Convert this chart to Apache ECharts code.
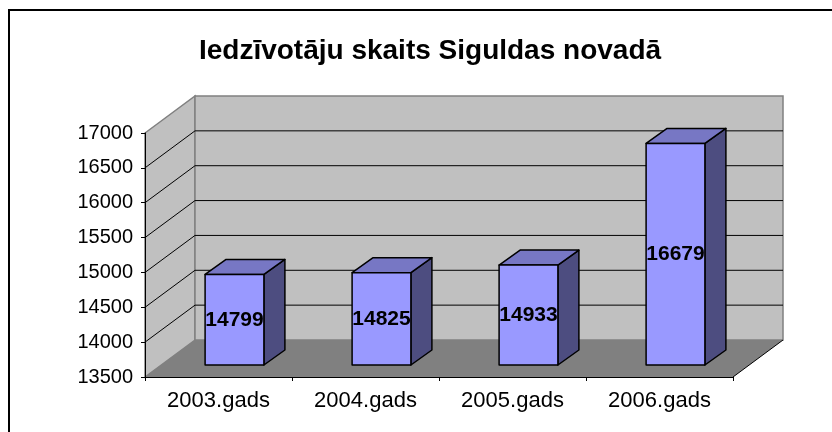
<!DOCTYPE html>
<html>
<head>
<meta charset="utf-8">
<script src="https://cdn.jsdelivr.net/npm/echarts@6/dist/echarts.min.js"></script>
<style>
    html, body { margin: 0; padding: 0; background: #fff; }
    #main { width: 832px; height: 432px; }
</style>
</head>
<body>
<div id="main"></div>
<script>
    const years = ['2003.gads', '2004.gads', '2005.gads', '2006.gads'];
    const population = [14799, 14825, 14933, 16679];
    const yMin = 13500;
    const yMax = 17000;
    const yStep = 500;

    const FONT = "'Liberation Sans', Arial, sans-serif";
    // depth of the 3d box (walls), and where bars sit inside it
    const DX = 50, DY = -37;
    const FDX = 16, FDY = -12;     // bar front face shift
    const BDX = 21, BDY = -15;     // bar depth

    const chart = echarts.init(document.getElementById('main'));

    function renderFrame(params, api) {
        const cs = params.coordSys;
        const x0 = cs.x, x1 = cs.x + cs.width;
        const yTop = api.coord([0, yMax])[1];
        const yBot = api.coord([0, yMin])[1];
        const children = [];
        // left wall
        children.push({
            type: 'polygon',
            shape: { points: [[x0, yTop], [x0 + DX, yTop + DY], [x0 + DX, yBot + DY], [x0, yBot]] },
            style: { fill: '#c0c0c0', stroke: '#808080', lineWidth: 1.5 }
        });
        // back wall
        children.push({
            type: 'rect',
            shape: { x: x0 + DX, y: yTop + DY, width: x1 - x0, height: yBot - yTop },
            style: { fill: '#c0c0c0', stroke: '#808080', lineWidth: 1.5 }
        });
        // gridlines
        for (let v = yMin + yStep; v < yMax; v += yStep) {
            const y = api.coord([0, v])[1];
            children.push({
                type: 'line',
                shape: { x1: x0, y1: y, x2: x0 + DX, y2: y + DY },
                style: { stroke: '#000', lineWidth: 1 }
            });
            children.push({
                type: 'line',
                shape: { x1: x0 + DX, y1: y + DY, x2: x1 + DX, y2: y + DY },
                style: { stroke: '#000', lineWidth: 1 }
            });
        }
        // floor
        children.push({
            type: 'polygon',
            shape: { points: [[x0, yBot], [x1, yBot], [x1 + DX, yBot + DY], [x0 + DX, yBot + DY]] },
            style: { fill: '#808080', stroke: null }
        });
        children.push({
            type: 'line',
            shape: { x1: x1, y1: yBot, x2: x1 + DX, y2: yBot + DY },
            style: { stroke: '#000', lineWidth: 1 }
        });
        return { type: 'group', children };
    }

    function renderBar(params, api) {
        const idx = api.value(0);
        const val = api.value(1);
        const base = api.coord([idx, yMin]);
        const top = api.coord([idx, val]);
        const bw = api.size([1, 0])[0] * 0.4;
        const cx = base[0] + FDX;
        const L = cx - bw / 2, R = cx + bw / 2;
        const T = top[1] + FDY, B = base[1] + FDY;
        const edge = { stroke: '#000', lineWidth: 1.5, lineJoin: 'round' };
        return {
            type: 'group',
            children: [
                {
                    type: 'polygon',
                    shape: { points: [[R, T], [R + BDX, T + BDY], [R + BDX, B + BDY], [R, B]] },
                    style: Object.assign({ fill: '#4d4d80' }, edge)
                },
                {
                    type: 'polygon',
                    shape: { points: [[L, T], [R, T], [R + BDX, T + BDY], [L + BDX, T + BDY]] },
                    style: Object.assign({ fill: '#7777c4' }, edge)
                },
                {
                    type: 'rect',
                    shape: { x: L, y: T, width: bw, height: B - T },
                    style: Object.assign({ fill: '#9999ff' }, edge)
                },
                {
                    type: 'text',
                    style: {
                        x: cx, y: (T + B) / 2,
                        text: String(val),
                        fill: '#000',
                        font: 'bold 21px ' + FONT,
                        align: 'center',
                        verticalAlign: 'middle'
                    }
                }
            ]
        };
    }

    const option = {
        animation: false,
        backgroundColor: '#fff',
        title: {
            text: 'Iedzīvotāju skaits Siguldas novadā',
            left: 425,
            top: 32,
            textAlign: 'center',
            textStyle: { fontFamily: FONT, fontSize: 28, fontWeight: 'bold', color: '#000' }
        },
        graphic: [{
            type: 'rect',
            shape: { x: 9, y: 10, width: 900, height: 500 },
            style: { fill: null, stroke: '#000', lineWidth: 2 },
            silent: true
        }],
        grid: { left: 145, right: 99, top: 133, bottom: 55 },
        xAxis: {
            type: 'category',
            data: years,
            z: 10,
            axisLine: { lineStyle: { color: '#000', width: 1 } },
            axisTick: { show: true, length: 4, lineStyle: { color: '#000' } },
            axisLabel: { fontFamily: FONT, fontSize: 22, color: '#000', margin: 13 },
            splitLine: { show: false }
        },
        yAxis: {
            type: 'value',
            min: yMin,
            max: yMax,
            interval: yStep,
            z: 10,
            axisLine: { show: true, lineStyle: { color: '#000', width: 1 } },
            axisTick: { show: true, length: 4, lineStyle: { color: '#000' } },
            axisLabel: {
                fontFamily: FONT, fontSize: 20, color: '#000', margin: 12,
                formatter: v => String(v)
            },
            splitLine: { show: false }
        },
        series: [
            {
                type: 'custom',
                name: 'frame',
                renderItem: renderFrame,
                data: [[0, yMin]],
                encode: { x: 0, y: 1 },
                silent: true
            },
            {
                type: 'custom',
                name: 'Iedzīvotāji',
                renderItem: renderBar,
                data: population.map((v, i) => [i, v]),
                encode: { x: 0, y: 1 }
            }
        ]
    };
    chart.setOption(option);
</script>
</body>
</html>
